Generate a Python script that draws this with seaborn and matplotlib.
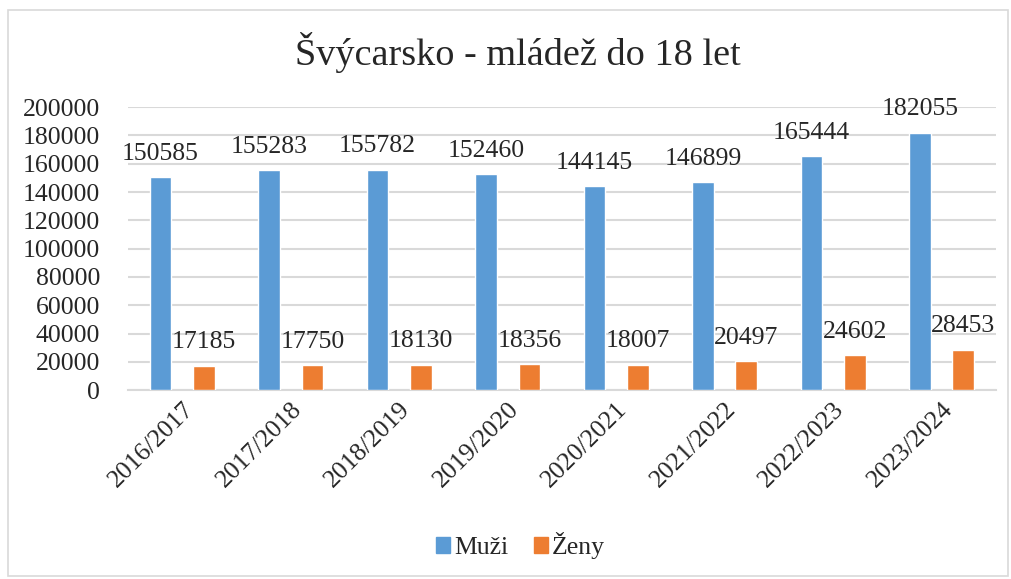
"""
Švýcarsko - mládež do 18 let: grouped bar chart, Excel look.
"""

import matplotlib
matplotlib.use("Agg")
import matplotlib.pyplot as plt
import matplotlib.patches as mpatches
import pandas as pd
import seaborn as sns

seasons = ["2016/2017", "2017/2018", "2018/2019", "2019/2020",
           "2020/2021", "2021/2022", "2022/2023", "2023/2024"]
muzi = [150585, 155283, 155782, 152460, 144145, 146899, 165444, 182055]
zeny = [17185, 17750, 18130, 18356, 18007, 20497, 24602, 28453]
series = ["Muži", "Ženy"]
colors = ["#5B9BD5", "#ED7D31"]

sns.set_style("white")
plt.rcParams["font.family"] = ["Liberation Serif", "DejaVu Serif"]

df = pd.DataFrame({
    "season": seasons * 2,
    "value": muzi + zeny,
    "series": [series[0]] * len(seasons) + [series[1]] * len(seasons),
})

fig = plt.figure(figsize=(10.11, 5.79), dpi=100)
ax = fig.add_axes([0.1266, 0.326, 0.8584, 0.489])

sns.barplot(data=df, x="season", y="value", hue="series",
            palette=colors, width=0.8, gap=0.5, ax=ax,
            legend=False, saturation=1, zorder=3)

for container in ax.containers:
    ax.bar_label(container, fmt="%d", padding=9, fontsize=18.5)

ax.set_ylim(0, 200000)
ax.set_yticks(range(0, 200001, 20000))
ax.yaxis.grid(True, color="#D9D9D9", linewidth=1.5, zorder=0)
ax.set_axisbelow(True)
for side in ["top", "right", "left"]:
    ax.spines[side].set_visible(False)
ax.spines["bottom"].set_color("#D9D9D9")
ax.spines["bottom"].set_linewidth(1.5)
ax.tick_params(axis="y", length=0, labelsize=18.5, pad=20)
ax.tick_params(axis="x", length=0, labelsize=18.5, pad=6)
plt.setp(ax.get_xticklabels(), rotation=45, ha="right",
         rotation_mode="anchor")
ax.set_xlabel("")
ax.set_ylabel("")

fig.suptitle("Švýcarsko - mládež do 18 let", fontsize=27.5, x=0.512, y=0.945)

handles = [mpatches.Patch(color=c, label=s) for c, s in zip(colors, series)]
fig.legend(handles=handles, loc="center", bbox_to_anchor=(0.515, 0.058),
           ncol=2, frameon=False, fontsize=18.5, handlelength=0.55,
           handleheight=0.55, handletextpad=0.15, columnspacing=1.0)

border = mpatches.Rectangle((0.008, 0.006), 0.989, 0.977,
                            transform=fig.transFigure, fill=False,
                            edgecolor="#D9D9D9", linewidth=1.2)
fig.patches.append(border)

fig.savefig("out.png", dpi=100)
plt.close(fig)
